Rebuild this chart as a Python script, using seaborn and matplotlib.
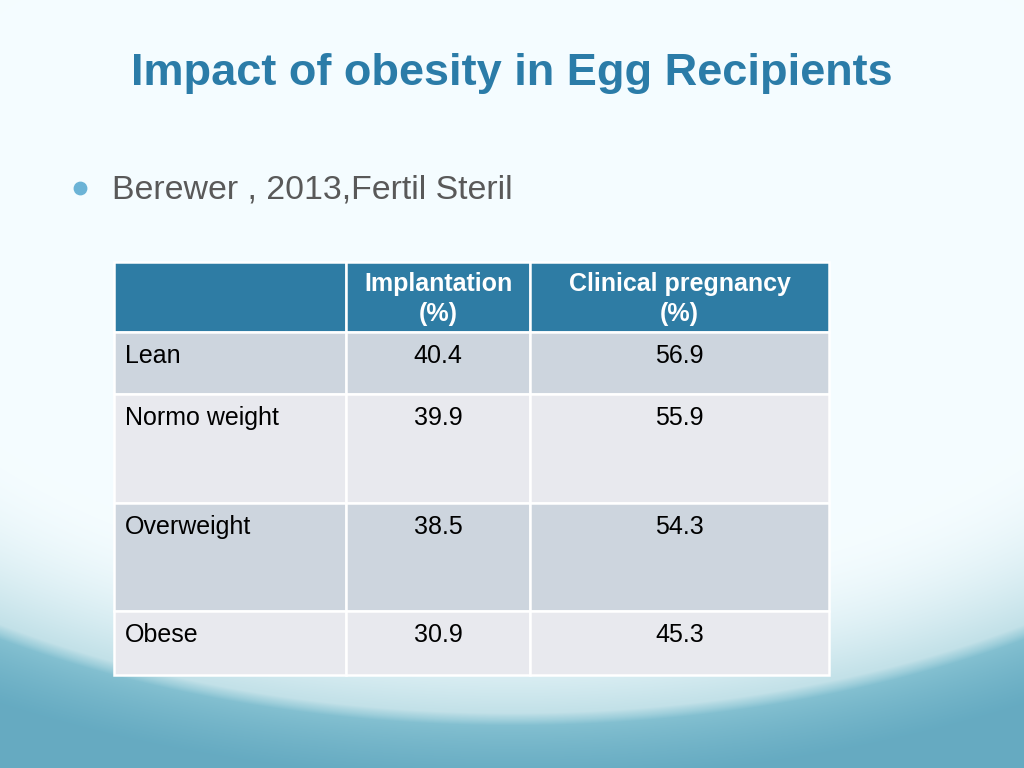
import numpy as np
import matplotlib.pyplot as plt
import seaborn as sns

# table data
groups = ["Lean", "Normo weight", "Overweight", "Obese"]
implantation = [40.4, 39.9, 38.5, 30.9]
clinical_pregnancy = [56.9, 55.9, 54.3, 45.3]
headers = ["", "Implantation\n(%)", "Clinical pregnancy\n(%)"]

title = "Impact of obesity in Egg Recipients"
bullet = "Berewer , 2013,Fertil Steril"

sns.set_theme(style="white")
plt.rcParams["font.family"] = ["Liberation Sans", "DejaVu Sans"]

fig = plt.figure(figsize=(10.24, 7.68), dpi=100)
ax = fig.add_axes([0, 0, 1, 1])
ax.set_xlim(0, 1024)
ax.set_ylim(768, 0)
ax.axis("off")

# slide background: pale top, teal arcs at the bottom
yy, xx = np.mgrid[0:768, 0:1024]
light = np.array([0.96, 0.99, 1.0])
pale = np.array([0.74, 0.87, 0.90])
teal_hi = np.array([0.54, 0.77, 0.83])
teal_lo = np.array([0.40, 0.67, 0.76])
d = np.sqrt(((xx - 512) / 900.0) ** 2 + ((yy - 230) / 490.0) ** 2)
t1 = np.clip((d - 0.72) / 0.28, 0, 1) ** 1.8
t2 = np.clip((d - 1.0) / 0.12, 0, 1) ** 0.7
w = np.clip((d - 0.985) / 0.025, 0, 1)
img = light * (1 - t1[..., None]) + pale * t1[..., None]
teal = teal_hi * (1 - t2[..., None]) + teal_lo * t2[..., None]
img = img * (1 - w[..., None]) + teal * w[..., None]
ax.imshow(np.clip(img, 0, 1), extent=(0, 1024, 768, 0), zorder=0,
          aspect="auto", interpolation="bilinear")

# title and bullet
ax.text(512, 73, title, ha="center", va="center", fontsize=32.5,
        fontweight="bold", color="#2b7ca8")
ax.scatter([80], [188], s=80, color="#6bb3d6", zorder=3)
ax.text(112, 190, bullet, ha="left", va="center", fontsize=24.4, color="#595959")

# table layout
col_edges = [114, 346, 530, 829]
row_heights = [70, 62, 109, 108, 64]
row_tops = list(262 + np.cumsum([0] + row_heights[:-1]))
row_colors = ["#2e7ca4", "#cdd5de", "#e8e9ee", "#cdd5de", "#e8e9ee"]

for r in range(len(row_heights)):
    for c in range(3):
        ax.bar(col_edges[c], row_heights[r], width=col_edges[c + 1] - col_edges[c],
               bottom=row_tops[r], align="edge", color=row_colors[r],
               edgecolor="white", linewidth=1.8, zorder=2)

# header text
for c, h in enumerate(headers):
    if h:
        cx = (col_edges[c] + col_edges[c + 1]) / 2
        ax.text(cx, row_tops[0] + row_heights[0] / 2 + 2, h, ha="center", va="center",
                fontsize=18, fontweight="bold", color="white", linespacing=1.35, zorder=3)

# body text
for i, g in enumerate(groups):
    y = row_tops[i + 1] + 24
    ax.text(col_edges[0] + 11, y, g, ha="left", va="center", fontsize=18,
            color="black", zorder=3)
    ax.text((col_edges[1] + col_edges[2]) / 2, y, f"{implantation[i]:.1f}",
            ha="center", va="center", fontsize=18, color="black", zorder=3)
    ax.text((col_edges[2] + col_edges[3]) / 2, y, f"{clinical_pregnancy[i]:.1f}",
            ha="center", va="center", fontsize=18, color="black", zorder=3)

fig.savefig("out.png", dpi=100)
